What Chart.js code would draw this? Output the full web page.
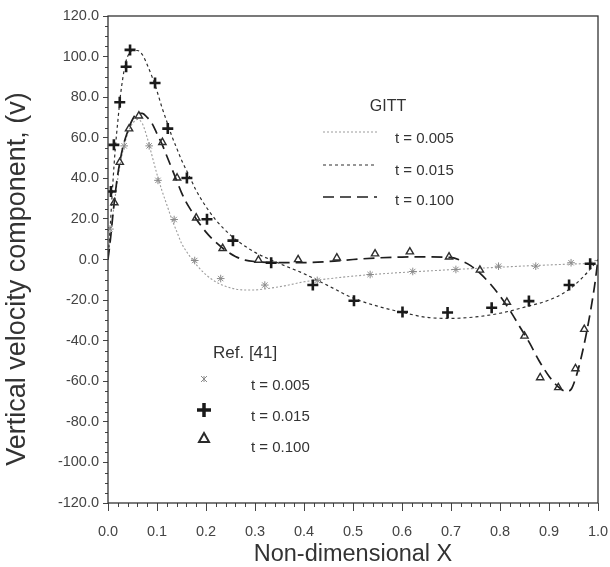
<!DOCTYPE html>
<html>
<head>
<meta charset="utf-8">
<script src="https://cdn.jsdelivr.net/npm/chart.js@4.4.1/dist/chart.umd.min.js"></script>
<style>
  html, body { margin: 0; padding: 0; background: #fff; }
  #wrap { width: 610px; height: 567px; }
</style>
</head>
<body>
<div id="wrap"><canvas id="c" width="610" height="567"></canvas></div>
<script>
const FONT = "'Liberation Sans', Arial, Helvetica, sans-serif";

// GITT solution, t = 0.005
const gittX005 = [0, 0.01, 0.02, 0.03, 0.04, 0.05, 0.06, 0.07, 0.08, 0.09, 0.1, 0.11, 0.12, 0.13, 0.14, 0.15, 0.16, 0.17, 0.18, 0.2, 0.22, 0.25, 0.28, 0.3, 0.32, 0.36, 0.4, 0.45, 0.5, 0.55, 0.6, 0.65, 0.7, 0.75, 0.8, 0.85, 0.9, 0.95, 0.98, 1.0];
const gittV005 = [0, 22, 40, 53, 62, 67, 69, 67, 60, 51, 42, 34, 27, 20, 14, 8, 4, 0.5, -2.5, -7.5, -11, -14, -15, -15, -14.5, -13, -11, -9.5, -8.2, -7.2, -6.4, -5.7, -5, -4.4, -3.8, -3.2, -2.7, -2.2, -1.8, 0];

// GITT solution, t = 0.015
const gittX015 = [0, 0.005, 0.01, 0.015, 0.02, 0.025, 0.03, 0.035, 0.04, 0.05, 0.06, 0.07, 0.08, 0.09, 0.1, 0.11, 0.12, 0.13, 0.14, 0.15, 0.16, 0.17, 0.18, 0.2, 0.22, 0.25, 0.28, 0.3, 0.35, 0.4, 0.45, 0.5, 0.55, 0.6, 0.65, 0.7, 0.75, 0.8, 0.85, 0.9, 0.93, 0.95, 0.97, 0.985, 1.0];
const gittV015 = [0, 18, 38, 55, 68, 80, 89, 96, 100, 103, 103, 101, 96, 90, 83, 75, 68, 61, 55, 49, 44, 39, 34, 26, 19.5, 12, 6.5, 3.5, -2, -7, -13, -19, -23, -26, -28.5, -29, -28.3, -26.5, -23.5, -20, -16.5, -13, -8.5, -4.5, 0];

// GITT solution, t = 0.100
const gittX100 = [0, 0.005, 0.01, 0.015, 0.02, 0.03, 0.04, 0.05, 0.06, 0.07, 0.08, 0.09, 0.1, 0.11, 0.12, 0.13, 0.14, 0.15, 0.16, 0.17, 0.18, 0.2, 0.22, 0.24, 0.26, 0.28, 0.3, 0.35, 0.4, 0.45, 0.5, 0.55, 0.6, 0.65, 0.7, 0.72, 0.74, 0.76, 0.78, 0.8, 0.82, 0.84, 0.86, 0.88, 0.9, 0.92, 0.935, 0.945, 0.955, 0.965, 0.975, 0.985, 0.993, 1.0];
const gittV100 = [0, 10, 22, 33, 42, 55, 63, 69, 72, 72, 70, 67, 62, 57, 51, 45, 39, 33, 28, 24, 20, 13.5, 8.5, 4.5, 1.5, -0.3, -1, -1.5, -1.5, -1, 0, 0.8, 1.2, 1.3, 1, -0.5, -3, -7, -12, -18, -25, -33, -41, -50, -57.5, -63, -65, -64, -58, -49, -38, -25, -13, 0];

// Ref. [41] values
const refX005 = [0.004, 0.033, 0.084, 0.102, 0.135, 0.177, 0.23, 0.32, 0.427, 0.535, 0.622, 0.71, 0.797, 0.873, 0.945];
const refV005 = [15, 56, 56, 39, 19.7, -0.5, -9.4, -12.6, -10.3, -7.4, -5.9, -4.9, -3.3, -3.3, -1.6];

const refX015 = [0.006, 0.012, 0.024, 0.037, 0.045, 0.096, 0.122, 0.161, 0.202, 0.255, 0.333, 0.418, 0.502, 0.601, 0.693, 0.783, 0.859, 0.941, 0.984];
const refV015 = [33.5, 56.5, 77.5, 95, 103.3, 87, 64.5, 40.2, 19.8, 9.3, -1.6, -12.6, -20.3, -25.9, -26.1, -23.8, -20.5, -12.6, -2.1];

const refX100 = [0.013, 0.024, 0.043, 0.063, 0.111, 0.141, 0.18, 0.234, 0.307, 0.388, 0.467, 0.545, 0.616, 0.696, 0.759, 0.814, 0.85, 0.882, 0.919, 0.954, 0.972];
const refV100 = [28, 47.9, 64.4, 70.8, 57.7, 40.2, 20.5, 5.5, -0.3, 0, 0.8, 2.8, 3.8, 1.3, -5.2, -21, -37.7, -58.2, -63.1, -53.8, -34.4];

const timeLabels = ['t = 0.005', 't = 0.015', 't = 0.100'];
const xTitle = 'Non-dimensional X';
const yTitle = 'Vertical velocity component, (v)';

const pts = (xs, vs) => xs.map((x, i) => ({ x: x, y: vs[i] }));

// line styles of the three GITT curves
const lineStyles = [
  { color: '#9c9c9c', width: 1.1, dash: [2, 2] },
  { color: '#2e2e2e', width: 1.2, dash: [3, 3] },
  { color: '#1e1e1e', width: 1.7, dash: [11, 6] }
];

function drawMarker(ctx, kind, x, y) {
  ctx.save();
  if (kind === 'star') {
    ctx.strokeStyle = '#8a8a8a'; ctx.lineWidth = 1;
    const r = 3;
    ctx.beginPath();
    ctx.moveTo(x - r, y - r); ctx.lineTo(x + r, y + r);
    ctx.moveTo(x + r, y - r); ctx.lineTo(x - r, y + r);
    ctx.moveTo(x, y - r); ctx.lineTo(x, y + r);
    ctx.stroke();
  } else if (kind === 'cross') {
    ctx.strokeStyle = '#1a1a1a'; ctx.lineWidth = 3.5;
    const r = 7;
    ctx.beginPath();
    ctx.moveTo(x - r, y); ctx.lineTo(x + r, y);
    ctx.moveTo(x, y - r); ctx.lineTo(x, y + r);
    ctx.stroke();
  } else {
    ctx.strokeStyle = '#2a2a2a'; ctx.lineWidth = 2;
    const r = 5;
    ctx.beginPath();
    ctx.moveTo(x, y - r); ctx.lineTo(x + r, y + r * 0.8); ctx.lineTo(x - r, y + r * 0.8);
    ctx.closePath();
    ctx.stroke();
  }
  ctx.restore();
}

const decorPlugin = {
  id: 'decor',
  afterDraw(chart) {
    const { ctx, chartArea: a, scales } = chart;
    const xs = scales.x, ys = scales.y;
    ctx.save();

    // minor ticks, pointing outward like the major ones
    ctx.strokeStyle = '#444';
    ctx.lineWidth = 1;
    ctx.beginPath();
    for (let v = -120; v <= 120; v += 5) {
      if (v % 20 === 0) continue;
      const py = Math.round(ys.getPixelForValue(v)) + 0.5;
      ctx.moveTo(a.left - 3, py); ctx.lineTo(a.left, py);
    }
    for (let k = 1; k < 50; k++) {
      if (k % 5 === 0) continue;
      const px = Math.round(xs.getPixelForValue(k / 50)) + 0.5;
      ctx.moveTo(px, a.bottom); ctx.lineTo(px, a.bottom + 4);
    }
    ctx.stroke();

    // frame
    ctx.strokeStyle = '#333';
    ctx.lineWidth = 1.3;
    ctx.strokeRect(a.left, a.top, a.right - a.left, a.bottom - a.top);

    // axis titles
    ctx.fillStyle = '#333';
    ctx.textAlign = 'center';
    ctx.textBaseline = 'middle';
    ctx.font = '23.5px ' + FONT;
    ctx.fillText(xTitle, (a.left + a.right) / 2, 555);
    ctx.save();
    ctx.translate(18, 279);
    ctx.rotate(-Math.PI / 2);
    ctx.font = '27px ' + FONT;
    ctx.fillText(yTitle, 0, 0);
    ctx.restore();

    // GITT legend
    ctx.font = '16px ' + FONT;
    ctx.fillText('GITT', 388, 107);
    const lineY = [132, 165, 197];
    const textY = [139, 171, 201];
    ctx.textAlign = 'left';
    ctx.font = '15px ' + FONT;
    for (let i = 0; i < 3; i++) {
      const s = lineStyles[i];
      ctx.save();
      ctx.strokeStyle = s.color; ctx.lineWidth = s.width; ctx.setLineDash(s.dash);
      ctx.beginPath(); ctx.moveTo(323, lineY[i]); ctx.lineTo(377, lineY[i]); ctx.stroke();
      ctx.restore();
      ctx.fillText(timeLabels[i], 395, textY[i]);
    }

    // Ref. [41] legend
    ctx.font = '17px ' + FONT;
    ctx.fillText('Ref. [41]', 213, 353);
    ctx.font = '15px ' + FONT;
    const kinds = ['star', 'cross', 'triangle'];
    const mY = [379, 410, 438];
    const tY = [386, 417, 448];
    for (let i = 0; i < 3; i++) {
      drawMarker(ctx, kinds[i], 204, mY[i]);
      ctx.fillText(timeLabels[i], 251, tY[i]);
    }
    ctx.restore();
  }
};

const lineDataset = (xs, vs, s) => ({
  data: pts(xs, vs),
  showLine: true,
  borderColor: s.color,
  borderWidth: s.width,
  borderDash: s.dash,
  pointRadius: 0,
  cubicInterpolationMode: 'monotone',
  fill: false
});

new Chart(document.getElementById('c'), {
  type: 'scatter',
  data: {
    datasets: [
      { data: pts(refX015, refV015), pointStyle: 'cross', pointRadius: 5.5, borderColor: '#1a1a1a', borderWidth: 2.6, backgroundColor: '#1a1a1a' },
      { data: pts(refX100, refV100), pointStyle: 'triangle', pointRadius: 4.2, borderColor: '#2e2e2e', borderWidth: 1.4, backgroundColor: 'rgba(255,255,255,0)' },
      { data: pts(refX005, refV005), pointStyle: 'star', pointRadius: 3.8, borderColor: '#8a8a8a', borderWidth: 1, backgroundColor: '#8a8a8a' },
      lineDataset(gittX015, gittV015, lineStyles[1]),
      lineDataset(gittX100, gittV100, lineStyles[2]),
      lineDataset(gittX005, gittV005, lineStyles[0])
    ]
  },
  options: {
    responsive: false,
    animation: false,
    devicePixelRatio: 1,
    layout: { padding: { left: 0, right: 12, top: 16, bottom: 0 } },
    plugins: { legend: { display: false }, tooltip: { enabled: false } },
    scales: {
      x: {
        type: 'linear', min: 0, max: 1,
        afterFit: s => { s.height = 64; s.paddingLeft = 0; s.paddingRight = 0; },
        ticks: { stepSize: 0.1, padding: 12, color: '#444', font: { family: FONT, size: 14.5 }, callback: v => Number(v).toFixed(1), maxRotation: 0 },
        grid: { drawOnChartArea: false, drawTicks: true, tickLength: 8, color: '#444' },
        border: { display: false }
      },
      y: {
        type: 'linear', min: -120, max: 120,
        afterFit: s => { s.width = 108; s.paddingTop = 0; s.paddingBottom = 0; },
        ticks: { stepSize: 20, padding: 4, color: '#444', font: { family: FONT, size: 14.5 }, callback: v => Number(v).toFixed(1) },
        grid: { drawOnChartArea: false, drawTicks: true, tickLength: 5, color: '#444' },
        border: { display: false }
      }
    }
  },
  plugins: [decorPlugin]
});
</script>
</body>
</html>
